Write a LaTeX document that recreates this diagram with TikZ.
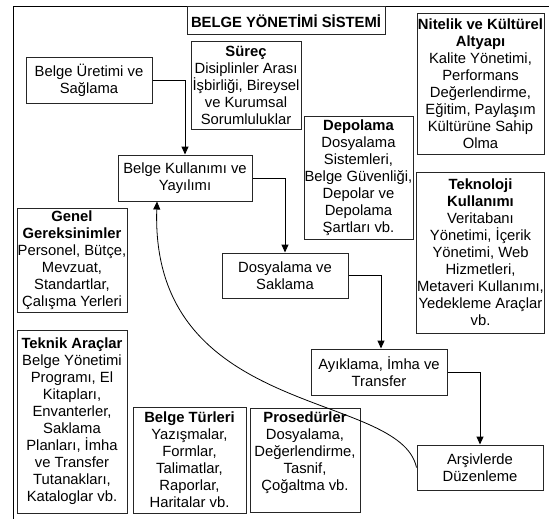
\documentclass[tikz,border=0pt]{standalone}
\usepackage{fontspec}
\setmainfont{Liberation Sans}
\usepackage{tikz}
\usetikzlibrary{arrows.meta,calc}

\begin{document}
\begin{tikzpicture}[x=1pt,y=-1pt,>={Triangle[width=7pt,length=8pt]},
  box/.style={draw=black!85,line width=1pt,inner xsep=0.5pt,inner ysep=1.5pt,align=center,
    font=\fontsize{14.8}{17}\selectfont},
  flow/.style={box,minimum height=46pt}]
\clip (0,0) rectangle (549,519);
\draw[line width=1pt] (13,7) rectangle (600,560);
\node[box,minimum width=198pt,minimum height=28pt] (title) at (286,21) {\textbf{BELGE YÖNETİMİ SİSTEMİ}};
% ana akis
\node[flow,minimum width=126pt] (uretim) at (89,80.5) {Belge Üretimi ve\\Sağlama};
\node[flow,minimum width=134pt] (kullanim) at (185,178) {Belge Kullanımı ve\\Yayılımı};
\node[flow,minimum width=126pt,minimum height=45pt] (dosyalama) at (285,275.5) {Dosyalama ve\\Saklama};
\node[flow,minimum width=136pt] (ayiklama) at (379,372) {Ayıklama, İmha ve\\Transfer};
\node[flow,minimum width=126pt,minimum height=45pt] (arsiv) at (480,467.5) {Arşivlerde\\Düzenleme};
% bilesenler
\node[box,minimum width=110pt,minimum height=87pt] (surec) at (246,85.5) {\textbf{Süreç}\\Disiplinler Arası\\İşbirliği, Bireysel\\ve Kurumsal\\Sorumluluklar};
\node[box,minimum width=109pt,minimum height=123pt] (depolama) at (358.5,177.5) {\textbf{Depolama}\\Dosyalama\\Sistemleri,\\Belge Güvenliği,\\Depolar ve\\Depolama\\Şartları vb.};
\node[box,minimum width=127pt,minimum height=140pt] (nitelik) at (480.5,84) {\textbf{Nitelik ve Kültürel}\\\textbf{Altyapı}\\Kalite Yönetimi,\\Performans\\Değerlendirme,\\Eğitim, Paylaşım\\Kültürüne Sahip\\Olma};
\node[box,minimum width=127pt,minimum height=161pt] (teknoloji) at (480.5,252.5) {\textbf{Teknoloji}\\\textbf{Kullanımı}\\Veritabanı\\Yönetimi, İçerik\\Yönetimi, Web\\Hizmetleri,\\Metaveri Kullanımı,\\Yedekleme Araçlar\\vb.};
\node[box,minimum width=110pt,minimum height=104pt] (genel) at (72,260) {\textbf{Genel}\\\textbf{Gereksinimler}\\Personel, Bütçe,\\Mevzuat,\\Standartlar,\\Çalışma Yerleri};
\node[box,minimum width=110pt,minimum height=183pt] (teknik) at (72,421.5) {\textbf{Teknik Araçlar}\\Belge Yönetimi\\Programı, El\\Kitapları,\\Envanterler,\\Saklama\\Planları, İmha\\ve Transfer\\Tutanakları,\\Kataloglar vb.};
\node[box,minimum width=113pt,minimum height=106pt] (turler) at (189.5,460) {\textbf{Belge Türleri}\\Yazışmalar,\\Formlar,\\Talimatlar,\\Raporlar,\\Haritalar vb.};
\node[box,minimum width=110pt,minimum height=104pt] (prosedur) at (305,460) {\textbf{Prosedürler}\\Dosyalama,\\Değerlendirme,\\Tasnif,\\Çoğaltma vb.\\\mbox{}};
% oklar
\draw[->,line width=1pt] (uretim.east) -| (kullanim.north);
\draw[->,line width=1pt] (kullanim.east) -| (dosyalama.north);
\draw[->,line width=1pt] (dosyalama.east) -| ($(ayiklama.north)+(2,0)$);
\draw[->,line width=1pt] (ayiklama.east) -| (arsiv.north);
\draw[->,line width=0.8pt] (arsiv.west) .. controls (400,390) and (150,420) .. ($(kullanim.south)+(-28,0)$);
\end{tikzpicture}
\end{document}
